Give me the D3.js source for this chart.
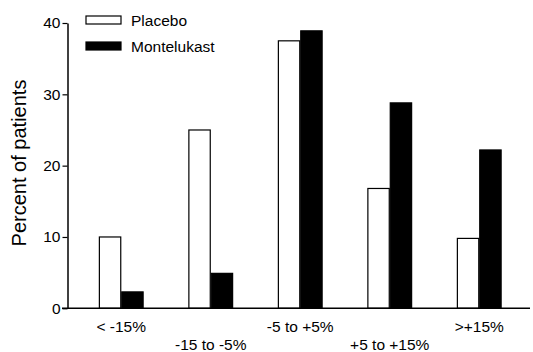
<!DOCTYPE html>
<html><head><meta charset="utf-8">
<script src="https://cdn.jsdelivr.net/npm/d3@7"></script>
<style>body{margin:0;background:#fff}svg{display:block}</style>
</head><body>
<script>
const categories = ["< -15%", "-15 to -5%", "-5 to +5%", "+5 to +15%", ">+15%"];
const series = ["Placebo", "Montelukast"];
const placebo = [10, 25, 37.5, 16.8, 9.8];
const montelukast = [2.3, 4.9, 38.9, 28.8, 22.2];
const yTicks = [0, 10, 20, 30, 40];

const W = 533, H = 352;
const svg = d3.select("body").append("svg").attr("width", W).attr("height", H);
const font = "Liberation Sans, Arial, sans-serif";

const y = d3.scaleLinear().domain([0, 40]).range([308.3, 23]);
const x0 = d3.scaleBand().domain(categories).range([76.5, 524]).paddingInner(0.5).paddingOuter(0.25);
const x1 = d3.scaleBand().domain(series).range([0, x0.bandwidth()]);
const color = {Placebo: "#fff", Montelukast: "#000"};
const data = categories.map((c, i) => ({cat: c, vals: [{s: "Placebo", v: placebo[i]}, {s: "Montelukast", v: montelukast[i]}]}));

// bars
const g = svg.append("g");
g.selectAll("g.grp").data(data).join("g").attr("class", "grp")
  .attr("transform", d => `translate(${x0(d.cat)},0)`)
  .selectAll("rect").data(d => d.vals).join("rect")
  .attr("x", d => x1(d.s) + 0.5).attr("width", x1.bandwidth() - 1)
  .attr("y", d => y(d.v)).attr("height", d => y(0) - y(d.v))
  .attr("fill", d => color[d.s]).attr("stroke", "#000").attr("stroke-width", 1.2);

// baseline
svg.append("line").attr("x1", 62).attr("x2", 530).attr("y1", y(0)).attr("y2", y(0))
  .attr("stroke", "#000").attr("stroke-width", 1.5);

// y axis
const yAxis = svg.append("g").attr("transform", "translate(67.5,0)")
  .call(d3.axisLeft(y).tickValues(yTicks).tickSize(5).tickPadding(2).tickSizeOuter(0));
yAxis.select(".domain").attr("stroke-width", 1.5);
yAxis.selectAll(".tick line").attr("stroke-width", 1.2);
yAxis.selectAll("text").attr("font-family", font).attr("font-size", 15.5).attr("fill", "#000");

// x labels
svg.append("g").selectAll("text").data(categories).join("text")
  .attr("x", d => x0(d) + x0.bandwidth() / 2)
  .attr("y", (d, i) => i % 2 === 0 ? 332 : 350)
  .attr("text-anchor", "middle").attr("font-family", font).attr("font-size", 15.5)
  .text(d => d);

// y title
svg.append("text").attr("transform", "translate(26,163) rotate(-90)")
  .attr("text-anchor", "middle").attr("font-family", font).attr("font-size", 20)
  .text("Percent of patients");

// legend
const leg = svg.append("g").selectAll("g").data(series).join("g")
  .attr("transform", (d, i) => `translate(86,${16 + i * 26})`);
leg.append("rect").attr("width", 35).attr("height", 8)
  .attr("fill", d => color[d]).attr("stroke", "#000").attr("stroke-width", 1.2);
leg.append("text").attr("x", 45).attr("y", 9.5).attr("font-family", font).attr("font-size", 15.5)
  .text(d => d);
</script>
</body></html>
